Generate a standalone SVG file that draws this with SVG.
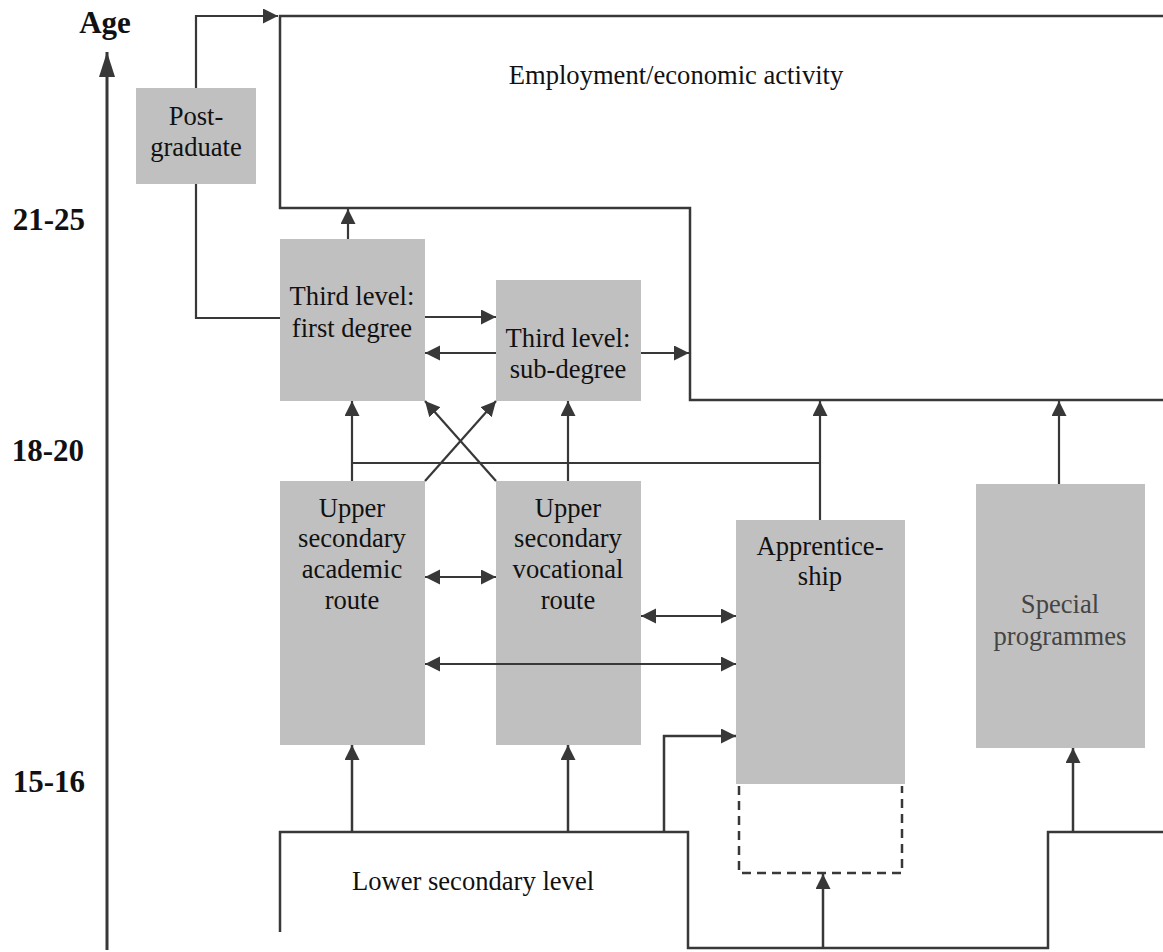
<svg xmlns="http://www.w3.org/2000/svg" width="1163" height="952" viewBox="0 0 1163 952">
<style>
  .box { fill: #c0c0c0; stroke: none; }
  .ln { fill: none; stroke: #383838; stroke-width: 2.5; }
  .cn { fill: none; stroke: #383838; stroke-width: 2.2; }
  .dash { fill: none; stroke: #383838; stroke-width: 2.5; stroke-dasharray: 9 6; }
  .t { font-family: "Liberation Serif", "Times New Roman", serif; font-size: 26.6px; fill: #111; text-anchor: middle; }
  .tg { fill: #444; }
  .age { font-family: "Liberation Serif", "Times New Roman", serif; font-size: 31px; font-weight: bold; fill: #111; }
</style>
<defs>
  <marker id="ah" markerUnits="userSpaceOnUse" markerWidth="16" markerHeight="16" refX="15" refY="7.5" orient="auto-start-reverse" viewBox="0 0 16 16">
    <path d="M0,0 L15,7.5 L0,15 z" fill="#383838"/>
  </marker>
  <marker id="ahl" markerUnits="userSpaceOnUse" markerWidth="26" markerHeight="18" refX="25" refY="8" orient="auto" viewBox="0 0 26 18">
    <path d="M0,0 L25,8 L0,16 z" fill="#383838"/>
  </marker>
</defs>
<rect width="1163" height="952" fill="#fff"/>

<g id="age-axis">
  <line x1="107" y1="950" x2="107" y2="52" stroke="#383838" stroke-width="3" marker-end="url(#ahl)"/>
  <text class="age" x="105" y="33" text-anchor="middle">Age</text>
  <text class="age" x="85" y="230" text-anchor="end">21-25</text>
  <text class="age" x="84" y="461" text-anchor="end">18-20</text>
  <text class="age" x="85" y="792" text-anchor="end">15-16</text>
</g>

<g id="employment">
  <path class="ln" d="M1163,16 H280 V208 H690 V400 H1163"/>
  <text class="t" x="676" y="84">Employment/economic activity</text>
</g>

<g id="postgraduate">
  <rect class="box" x="136" y="88" width="120" height="96"/>
  <text class="t" x="196" y="125">Post-</text>
  <text class="t" x="196" y="156">graduate</text>
</g>

<g id="third-first">
  <rect class="box" x="280" y="239" width="145" height="162"/>
  <text class="t" x="352" y="305">Third level:</text>
  <text class="t" x="352" y="337">first degree</text>
</g>

<g id="third-sub">
  <rect class="box" x="496" y="280" width="145" height="121"/>
  <text class="t" x="568" y="347">Third level:</text>
  <text class="t" x="568" y="378">sub-degree</text>
</g>

<g id="upper-academic">
  <rect class="box" x="280" y="481" width="145" height="264"/>
  <text class="t" x="352" y="517">Upper</text>
  <text class="t" x="352" y="547">secondary</text>
  <text class="t" x="352" y="578">academic</text>
  <text class="t" x="352" y="609">route</text>
</g>

<g id="upper-vocational">
  <rect class="box" x="496" y="481" width="145" height="264"/>
  <text class="t" x="568" y="517">Upper</text>
  <text class="t" x="568" y="547">secondary</text>
  <text class="t" x="568" y="578">vocational</text>
  <text class="t" x="568" y="609">route</text>
</g>

<g id="apprenticeship">
  <rect class="box" x="736" y="520" width="169" height="264"/>
  <path class="dash" d="M739,786 V873 H902 V786"/>
  <text class="t" x="820" y="555">Apprentice-</text>
  <text class="t" x="820" y="585">ship</text>
</g>

<g id="special">
  <rect class="box" x="976" y="484" width="169" height="264"/>
  <text class="t tg" x="1060" y="613">Special</text>
  <text class="t tg" x="1060" y="645">programmes</text>
</g>

<g id="lower-secondary">
  <path class="ln" d="M280,932 V832 H688 V948 H1048 V832 H1163"/>
  <text class="t" x="473" y="890">Lower secondary level</text>
</g>

<g id="connectors">
  <path class="cn" d="M196,88 V16 H278" marker-end="url(#ah)"/>
  <path class="cn" d="M196,184 V318 H280"/>
  <line class="cn" x1="348" y1="239" x2="348" y2="209" marker-end="url(#ah)"/>
  <line class="cn" x1="425" y1="317" x2="496" y2="317" marker-end="url(#ah)"/>
  <line class="cn" x1="496" y1="353" x2="425" y2="353" marker-end="url(#ah)"/>
  <line class="cn" x1="641" y1="353" x2="689" y2="353" marker-end="url(#ah)"/>
  <line class="cn" x1="352" y1="481" x2="352" y2="401" marker-end="url(#ah)"/>
  <line class="cn" x1="568" y1="481" x2="568" y2="401" marker-end="url(#ah)"/>
  <line class="cn" x1="425" y1="481" x2="496" y2="401" marker-end="url(#ah)"/>
  <line class="cn" x1="496" y1="481" x2="425" y2="401" marker-end="url(#ah)"/>
  <line class="cn" x1="352" y1="463" x2="820" y2="463"/>
  <line class="cn" x1="820" y1="520" x2="820" y2="401" marker-end="url(#ah)"/>
  <line class="cn" x1="1059" y1="484" x2="1059" y2="401" marker-end="url(#ah)"/>
  <line class="cn" x1="425" y1="577" x2="496" y2="577" marker-start="url(#ah)" marker-end="url(#ah)"/>
  <line class="cn" x1="641" y1="616" x2="736" y2="616" marker-start="url(#ah)" marker-end="url(#ah)"/>
  <line class="cn" x1="425" y1="664" x2="736" y2="664" marker-start="url(#ah)" marker-end="url(#ah)"/>
  <line class="ln" x1="352" y1="832" x2="352" y2="745" marker-end="url(#ah)"/>
  <line class="ln" x1="568" y1="832" x2="568" y2="745" marker-end="url(#ah)"/>
  <path class="ln" d="M664,832 V736 H736" marker-end="url(#ah)"/>
  <line class="ln" x1="823" y1="948" x2="823" y2="874" marker-end="url(#ah)"/>
  <line class="ln" x1="1073" y1="832" x2="1073" y2="748" marker-end="url(#ah)"/>
</g>
</svg>
